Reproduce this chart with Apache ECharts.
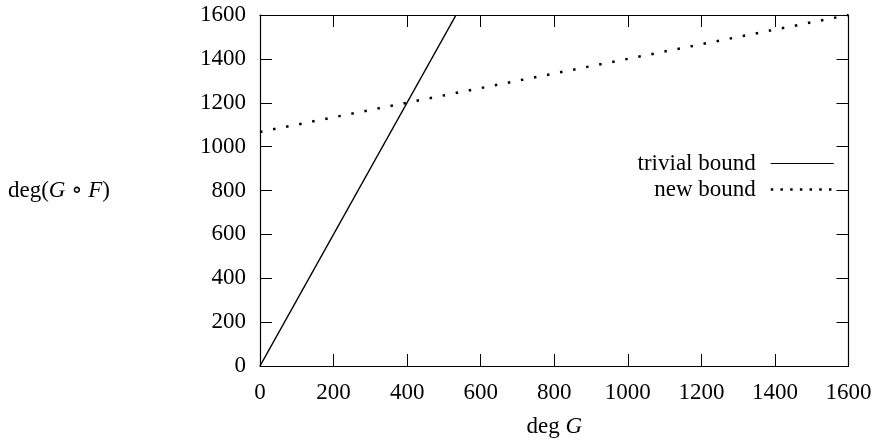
<!DOCTYPE html>
<html>
<head>
<meta charset="utf-8">
<script src="https://cdn.jsdelivr.net/npm/echarts@6/dist/echarts.min.js"></script>
<style>
  html, body { margin: 0; padding: 0; background: #fff; }
  #chart { width: 878px; height: 443px; }
</style>
</head>
<body>
<div id="chart"></div>
<script>
// values
var trivialX = [0, 533];
var trivialY = [0, 1600];
var newX = [0, 1600];
var newY = [1067, 1600];
var seriesNames = ['trivial bound', 'new bound'];
var tickStep = 200;

var FONT = '"Liberation Serif", "DejaVu Serif", serif';

function pairs(xs, ys) {
	var out = [];
	for (var i = 0; i < xs.length; i++) out.push([xs[i], ys[i]]);
	return out;
}

function plain(v) { return String(v); }

var chart = echarts.init(document.getElementById('chart'), null, { renderer: 'canvas' });

function tickStyle() {
	return { show: true, inside: true, length: 12, lineStyle: { color: '#000', width: 1 } };
}
function lineAxis() {
	return { show: true, onZero: false, lineStyle: { color: '#000', width: 1.2 } };
}

option = {
	animation: false,
	backgroundColor: '#fff',
	textStyle: { fontFamily: FONT },
	grid: { left: 260, right: 29.5, top: 15, bottom: 76, containLabel: false },
	legend: {
		orient: 'vertical',
		align: 'right',
		right: 38,
		top: 147,
		itemWidth: 63,
		itemHeight: 14,
		itemGap: 3,
		textStyle: { fontFamily: FONT, fontSize: 23, color: '#000', padding: [0, 10, 0, 0] },
		data: [
			{ name: seriesNames[0], itemStyle: { opacity: 0 }, lineStyle: { color: '#000', width: 1.2, type: 'solid' } },
			{ name: seriesNames[1], itemStyle: { opacity: 0 }, lineStyle: { color: '#000', width: 2.5, type: [2.5, 7.2] } }
		]
	},
	xAxis: [{
		type: 'value', position: 'bottom', min: 0, max: 1600, interval: tickStep,
		axisLine: lineAxis(), axisTick: tickStyle(), splitLine: { show: false },
		axisLabel: { fontFamily: FONT, fontSize: 23, color: '#000', margin: 15, formatter: plain },
		name: '{n|deg }{i|G}', nameLocation: 'middle', nameGap: 49,
		nameTextStyle: {
			rich: {
				n: { fontFamily: FONT, fontSize: 23, color: '#000' },
				i: { fontFamily: FONT, fontSize: 23, color: '#000', fontStyle: 'italic' }
			}
		}
	}, {
		type: 'value', position: 'top', min: 0, max: 1600, interval: tickStep,
		axisLine: lineAxis(), axisTick: tickStyle(), axisLabel: { show: false }, splitLine: { show: false }
	}],
	yAxis: [{
		type: 'value', position: 'left', min: 0, max: 1600, interval: tickStep,
		axisLine: lineAxis(), axisTick: tickStyle(), splitLine: { show: false },
		axisLabel: { fontFamily: FONT, fontSize: 23, color: '#000', margin: 14, formatter: plain }
	}, {
		type: 'value', position: 'right', min: 0, max: 1600, interval: tickStep,
		axisLine: lineAxis(), axisTick: tickStyle(), axisLabel: { show: false }, splitLine: { show: false }
	}],
	graphic: [{
		type: 'text',
		left: 8,
		top: 179,
		style: {
			text: '{n|deg(}{i|G}{n| ∘ }{i|F}{n|)}',
			rich: {
				n: { fontFamily: FONT, fontSize: 23, fill: '#000' },
				i: { fontFamily: FONT, fontSize: 23, fill: '#000', fontStyle: 'italic' }
			}
		}
	}],
	series: [{
		name: seriesNames[0],
		type: 'line',
		symbol: 'none',
		data: pairs(trivialX, trivialY),
		lineStyle: { color: '#000', width: 1.5, type: 'solid' },
		itemStyle: { color: '#000' }
	}, {
		name: seriesNames[1],
		type: 'line',
		symbol: 'none',
		data: pairs(newX, newY),
		lineStyle: { color: '#000', width: 2.5, type: [2.5, 10.8], cap: 'butt' },
		itemStyle: { color: '#000' }
	}]
};
chart.setOption(option);
</script>
</body>
</html>
